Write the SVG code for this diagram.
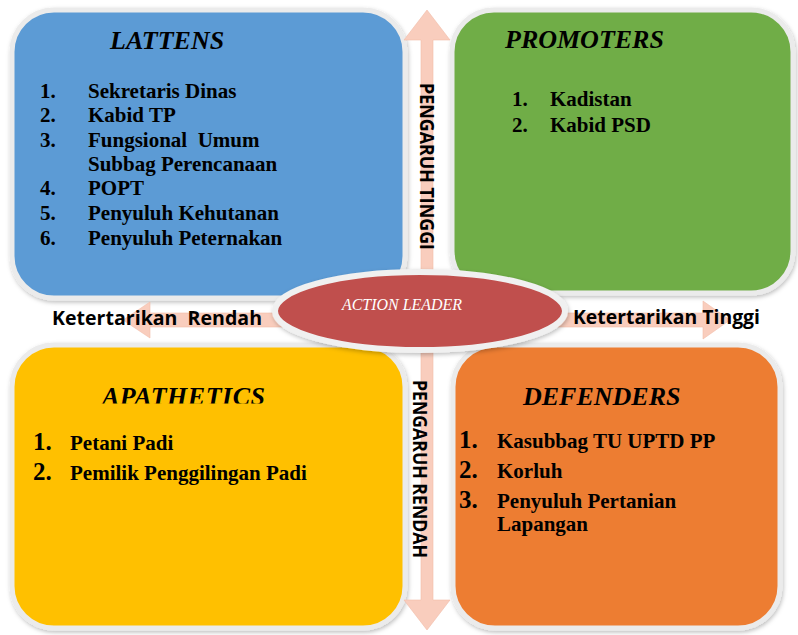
<svg xmlns="http://www.w3.org/2000/svg" width="798" height="635" viewBox="0 0 798 635">
<style>
.box{stroke:#ebebeb;stroke-width:5;filter:url(#sh)}
.title{font-family:"Liberation Serif",serif;font-weight:bold;font-style:italic;font-size:26px;fill:#000}
.item{font-family:"Liberation Serif",serif;font-weight:bold;font-size:21px;fill:#000}
.num{font-family:"Liberation Serif",serif;font-weight:bold;font-size:25px;fill:#000}
.lbl{font-family:"Open Sans","DejaVu Sans",sans-serif;font-weight:bold;font-size:19px;fill:#000}
.arrow{fill:#f9cdbd;stroke:#f2bca8;stroke-width:0.6}
</style>
<defs>
<filter id="sh" x="-10%" y="-10%" width="120%" height="125%">
<feDropShadow dx="1" dy="2" stdDeviation="2" flood-color="#000" flood-opacity="0.25"/>
</filter>
<clipPath id="clipApa"><rect x="0" y="340" width="420" height="63.5"/></clipPath>
</defs>
<rect width="798" height="635" fill="#fff"/>

<g id="node-lattens">
<rect class="box" x="12" y="10" width="393" height="288" rx="42" fill="#5b9bd5"/>
<text class="title" x="110" y="49">LATTENS</text>
<text class="item" x="40" y="98">1.</text><text class="item" x="88" y="98">Sekretaris Dinas</text>
<text class="item" x="40" y="122">2.</text><text class="item" x="88" y="122">Kabid TP</text>
<text class="item" x="40" y="147">3.</text><text class="item" x="88" y="147" xml:space="preserve">Fungsional  Umum</text>
<text class="item" x="88" y="171">Subbag Perencanaan</text>
<text class="item" x="40" y="195">4.</text><text class="item" x="88" y="195">POPT</text>
<text class="item" x="40" y="220">5.</text><text class="item" x="88" y="220">Penyuluh Kehutanan</text>
<text class="item" x="40" y="245">6.</text><text class="item" x="88" y="245">Penyuluh Peternakan</text>
</g>

<g id="node-promoters">
<rect class="box" x="452" y="10" width="341" height="283" rx="42" fill="#70ad47"/>
<text class="title" x="505" y="48">PROMOTERS</text>
<text class="item" x="512" y="106">1.</text><text class="item" x="550" y="106">Kadistan</text>
<text class="item" x="512" y="132">2.</text><text class="item" x="550" y="132">Kabid PSD</text>
</g>

<g id="node-apathetics">
<rect class="box" x="12" y="345" width="393" height="283" rx="42" fill="#ffc000"/>
<text class="title" x="102" y="405" clip-path="url(#clipApa)" letter-spacing="0.5">APATHETICS</text>
<text class="num" x="33" y="450">1.</text><text class="item" x="70" y="450">Petani Padi</text>
<text class="num" x="33" y="480">2.</text><text class="item" x="70" y="480">Pemilik Penggilingan Padi</text>
</g>

<g id="node-defenders">
<rect class="box" x="453" y="345" width="327" height="283" rx="42" fill="#ed7d31"/>
<text class="title" x="523" y="405">DEFENDERS</text>
<text class="num" x="459" y="448">1.</text><text class="item" x="497" y="448">Kasubbag TU UPTD PP</text>
<text class="num" x="459" y="478">2.</text><text class="item" x="497" y="478">Korluh</text>
<text class="num" x="459" y="508">3.</text><text class="item" x="497" y="508">Penyuluh Pertanian</text>
<text class="item" x="497" y="531">Lapangan</text>
</g>

<g id="connectors">
<polygon class="arrow" points="427,10 450,40 433,40 433,600 450,600 427,630 404,600 421,600 421,40 404,40"/>
<polygon class="arrow" points="123,320 150,302 150,313 703,313 703,301 730,320 703,339 703,327 150,327 150,338"/>
<text class="lbl" x="52" y="325" textLength="210" lengthAdjust="spacingAndGlyphs" xml:space="preserve">Ketertarikan  Rendah</text>
<text class="lbl" x="573" y="324" textLength="187" lengthAdjust="spacingAndGlyphs">Ketertarikan Tinggi</text>
<text class="lbl" font-size="18" transform="translate(420,83) rotate(90)" textLength="167" lengthAdjust="spacingAndGlyphs">PENGARUH TINGGI</text>
<text class="lbl" font-size="18" transform="translate(413,380) rotate(90)" textLength="178" lengthAdjust="spacingAndGlyphs">PENGARUH RENDAH</text>
</g>

<g id="node-action-leader">
<ellipse cx="420" cy="311" rx="145" ry="39" fill="#c0504d" stroke="#f0f0f0" stroke-width="6" filter="url(#sh)"/>
<text x="342" y="310" font-family="'Liberation Serif',serif" font-style="italic" font-size="16" fill="#fff" textLength="120" lengthAdjust="spacingAndGlyphs">ACTION LEADER</text>
</g>
</svg>
